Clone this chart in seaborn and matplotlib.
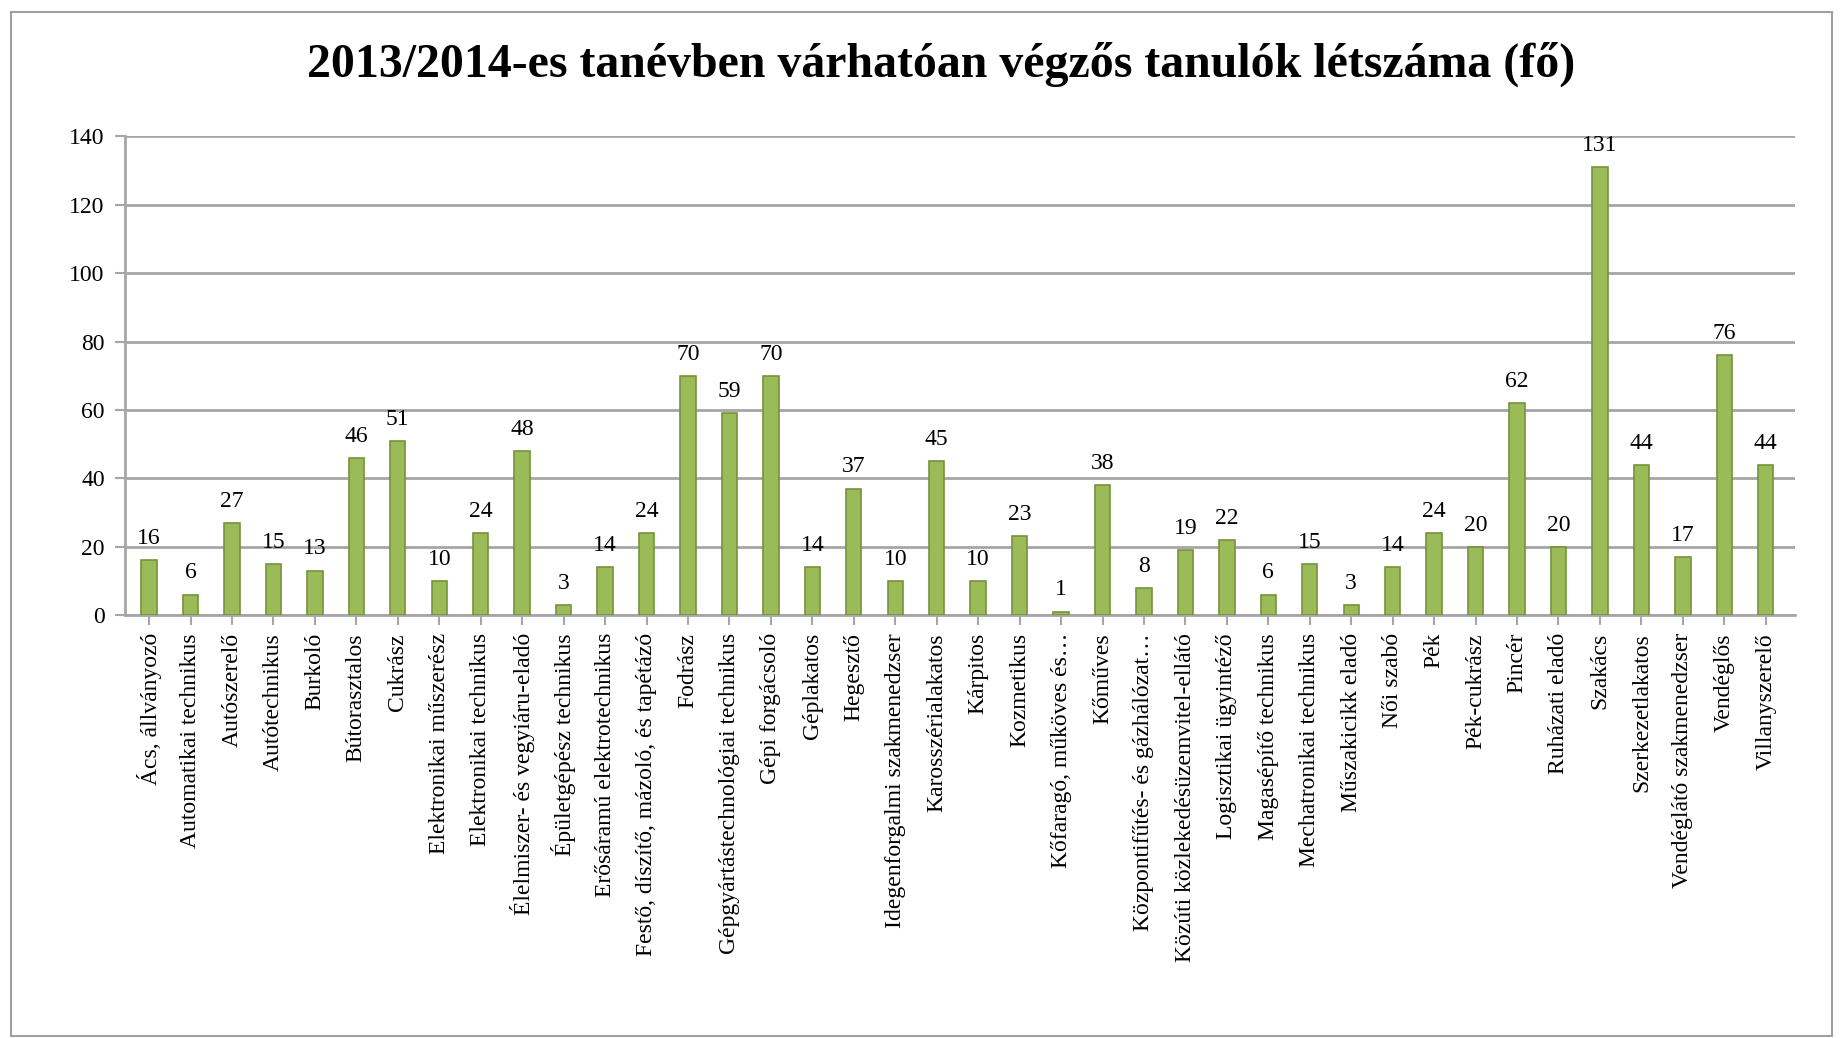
import matplotlib
matplotlib.use("Agg")
import matplotlib.pyplot as plt
import seaborn as sns
import pandas as pd
from matplotlib.patches import Rectangle

sns.set_style("white")
plt.rcParams['font.family'] = ['Liberation Serif', 'DejaVu Serif']
plt.rcParams['text.color'] = 'black'
plt.rcParams['xtick.color'] = 'black'
plt.rcParams['ytick.color'] = 'black'

szakmak = [
    "Ács, állványozó", "Automatikai technikus", "Autószerelő", "Autótechnikus",
    "Burkoló", "Bútorasztalos", "Cukrász", "Elektronikai műszerész",
    "Elektronikai technikus", "Élelmiszer- és vegyiáru-eladó",
    "Épületgépész technikus", "Erősáramú elektrotechnikus",
    "Festő, díszítő, mázoló, és tapétázó", "Fodrász",
    "Gépgyártástechnológiai technikus", "Gépi forgácsoló", "Géplakatos",
    "Hegesztő", "Idegenforgalmi szakmenedzser", "Karosszérialakatos",
    "Kárpitos", "Kozmetikus", "Kőfaragó, műköves és…", "Kőműves",
    "Központifűtés- és gázhálózat…", "Közúti közlekedésüzemvitel-ellátó",
    "Logisztikai ügyintéző", "Magasépítő technikus", "Mechatronikai technikus",
    "Műszakicikk eladó", "Női szabó", "Pék", "Pék-cukrász", "Pincér",
    "Ruházati eladó", "Szakács", "Szerkezetlakatos",
    "Vendéglátó szakmenedzser", "Vendéglős", "Villanyszerelő",
]
letszam = [16, 6, 27, 15, 13, 46, 51, 10, 24, 48,
           3, 14, 24, 70, 59, 70, 14, 37, 10, 45,
           10, 23, 1, 38, 8, 19, 22, 6, 15, 3,
           14, 24, 20, 62, 20, 131, 44, 17, 76, 44]
y_ticks = [0, 20, 40, 60, 80, 100, 120, 140]

df = pd.DataFrame({"szakma": szakmak, "fo": letszam})

fig = plt.figure(figsize=(18.45, 10.38), dpi=100)
ax = fig.add_axes([0.068, 0.4075, 0.905, 0.461])

sns.barplot(data=df, x="szakma", y="fo", color="#9BBB59", width=0.37,
            edgecolor="#76923C", linewidth=1.2, saturation=1, ax=ax, zorder=3)

ax.set_ylim(0, 140)
ax.set_xlim(-0.57, len(szakmak) - 0.29)
ax.set_yticks(y_ticks)
ax.yaxis.grid(True, color="#A6A6A6", linewidth=2)
ax.set_axisbelow(True)
ax.set_xlabel("")
ax.set_ylabel("")

for s in ["top", "right"]:
    ax.spines[s].set_visible(False)
ax.spines["left"].set_color("#A6A6A6")
ax.spines["left"].set_linewidth(2)
ax.spines["bottom"].set_color("#A6A6A6")
ax.spines["bottom"].set_linewidth(2)

ax.tick_params(axis="y", labelsize=17, length=7, width=1.5, color="#A6A6A6",
               left=True, pad=8)
ax.tick_params(axis="x", labelsize=17, length=7, width=1.5, color="#A6A6A6",
               bottom=True, pad=6)
ax.set_xticks(range(len(szakmak)))
ax.set_xticklabels(szakmak, rotation=90)

ax.bar_label(ax.containers[0], labels=[str(v) for v in letszam],
             fontsize=17, padding=8)

fig.suptitle("2013/2014-es tanévben várhatóan végzős tanulók létszáma (fő)",
             fontsize=34.5, fontweight="bold", x=0.51, y=0.96)

fig.patches.append(Rectangle((0.006, 0.002), 0.987, 0.986, transform=fig.transFigure,
                             fill=False, edgecolor="#A0A0A0", linewidth=1.5))

fig.savefig("out.png", dpi=100)
